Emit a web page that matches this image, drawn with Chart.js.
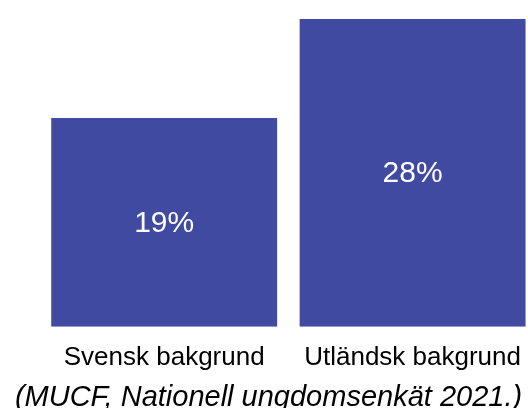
<!DOCTYPE html>
<html>
<head>
<meta charset="utf-8">
<script src="https://cdn.jsdelivr.net/npm/chart.js@4/dist/chart.umd.min.js"></script>
<style>
  html, body { margin: 0; padding: 0; background: #fff; overflow: hidden; }
  #wrap { width: 537px; height: 408px; }
</style>
</head>
<body>
<div id="wrap"><canvas id="chartId"></canvas></div>
<script>
var categories = ["Svensk bakgrund", "Utländsk bakgrund"];
var values = [19, 28];
var source = "(MUCF, Nationell ungdomsenkät 2021.)";

// writes the percentage in the middle of each bar
var barText = {
    id: 'barText',
    afterDatasetsDraw: function (chart) {
        var ctx = chart.ctx;
        ctx.save();
        ctx.fillStyle = '#ffffff';
        ctx.font = '30px "Liberation Sans", Arial, sans-serif';
        ctx.textAlign = 'center';
        ctx.textBaseline = 'middle';
        chart.getDatasetMeta(0).data.forEach(function (bar, i) {
            var mid = (bar.y + bar.base) / 2 + 1;
            ctx.fillText(values[i] + '%', bar.x, mid);
        });
        ctx.restore();
    }
};

var chrt = document.getElementById("chartId").getContext("2d");
var chartId = new Chart(chrt, {
    type: 'bar',
    data: {
        labels: categories,
        datasets: [{
            data: values,
            backgroundColor: '#3f4aa0',
            barPercentage: 1,
            categoryPercentage: 0.9095
        }]
    },
    options: {
        responsive: true,
        maintainAspectRatio: false,
        animation: false,
        layout: { padding: { left: 0, right: 0, top: 19, bottom: 0 } },
        plugins: {
            legend: { display: false },
            tooltip: { enabled: false },
            title: {
                display: true,
                position: 'bottom',
                text: source,
                color: '#000',
                font: { family: '"Liberation Sans", Arial, sans-serif', size: 29, style: 'italic', weight: 'normal', lineHeight: 0.7 },
                padding: 0
            }
        },
        scales: {
            x: {
                grid: { display: false, drawTicks: false },
                border: { display: false },
                ticks: {
                    color: '#000',
                    padding: 16,
                    font: { family: '"Liberation Sans", Arial, sans-serif', size: 26 }
                },
                afterFit: function (scale) { scale.height = 61; }
            },
            y: {
                min: 0,
                max: 28,
                grid: { display: false },
                border: { display: false },
                ticks: { display: false },
                afterFit: function (scale) { scale.width = 40; }
            }
        }
    },
    plugins: [barText]
});
</script>
</body>
</html>
